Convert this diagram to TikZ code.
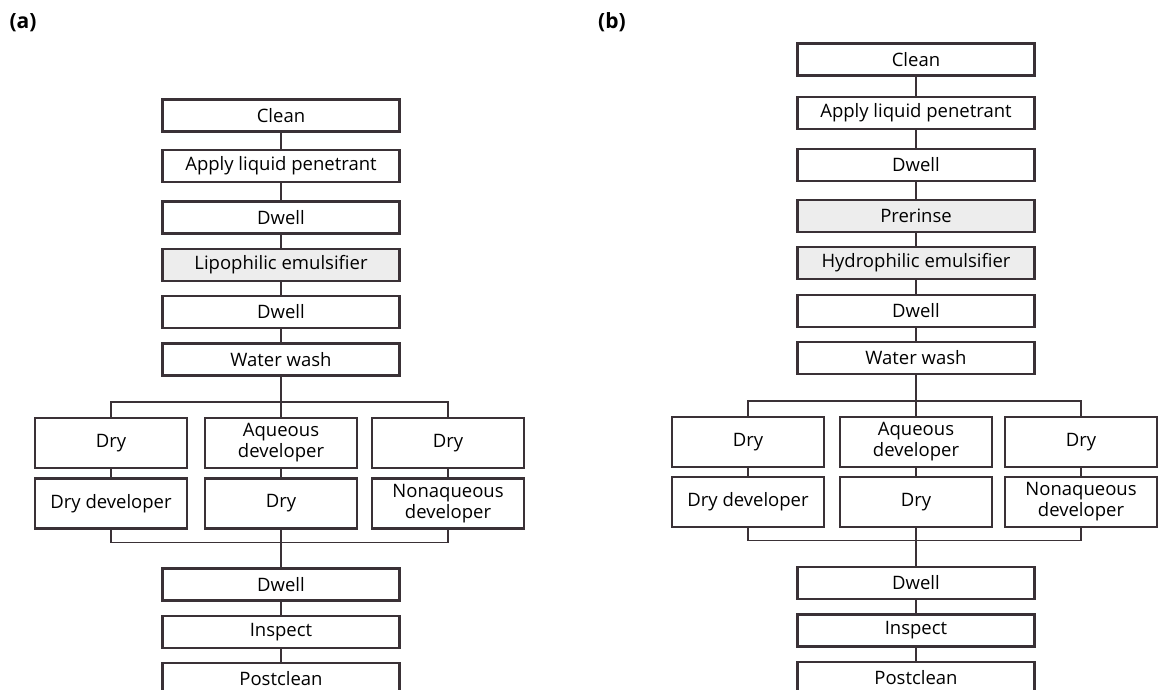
\documentclass[tikz,border=0pt]{standalone}
\usepackage{fontspec}
\setmainfont{Open Sans}
\definecolor{edge}{HTML}{3A3136}
\definecolor{shade}{HTML}{EDEDED}
\begin{document}
\begin{tikzpicture}[x=1pt,y=-1pt,
  box/.style={draw=edge,line width=2.4pt,fill=white,inner sep=0pt,minimum height=32pt,
    font=\fontsize{18.5}{21}\selectfont,text=black,align=center},
  mainbox/.style={box,minimum width=237pt},
  graybox/.style={mainbox,fill=shade},
  branch/.style={box,minimum width=152pt,minimum height=50pt},
  link/.style={draw=edge,line width=1.4pt},
  panel/.style={font=\fontsize{21}{24}\selectfont\bfseries}]
\useasboundingbox (0,0) rectangle (1160,690);
% ---------- (a) ----------
\node[panel] (la) at (23,23) {(a)};
\node[mainbox] (a1) at (281,115.5) {Clean};
\node[mainbox] (a2) at (281,166) {Apply liquid penetrant};
\node[mainbox] (a3) at (281,217.5) {Dwell};
\node[graybox] (a4) at (281,265) {Lipophilic emulsifier};
\node[mainbox] (a5) at (281,312) {Dwell};
\node[mainbox] (a6) at (281,359.5) {Water wash};
\node[branch] (ar1a) at (111,443) {Dry};
\node[branch] (ar1b) at (281,443) {Aqueous\\developer};
\node[branch] (ar1c) at (448,443) {Dry};
\node[branch] (ar2a) at (111,503.5) {Dry developer};
\node[branch] (ar2b) at (281,503.5) {Dry};
\node[branch] (ar2c) at (448,503.5) {Nonaqueous\\developer};
\node[mainbox] (a7) at (281,584.5) {Dwell};
\node[mainbox] (a8) at (281,632) {Inspect};
\node[mainbox] (a9) at (281,679) {Postclean};
\foreach \p/\q in {a1/a2,a2/a3,a3/a4,a4/a5,a5/a6,a6/ar1b,ar1a/ar2a,ar1b/ar2b,ar1c/ar2c,ar2b/a7,a7/a8,a8/a9}
  \draw[link] (\p) -- (\q);
\draw[link] (ar1a.north) -- ++(0,-15) -| (ar1c.north);
\draw[link] (ar2a.south) -- ++(0,12.5) -| (ar2c.south);
% ---------- (b) ----------
\node[panel] (lb) at (612,22) {(b)};
\node[mainbox] (b1) at (916,59.5) {Clean};
\node[mainbox] (b2) at (916,113) {Apply liquid penetrant};
\node[mainbox] (b3) at (916,165) {Dwell};
\node[graybox] (b4) at (916,216) {Prerinse};
\node[graybox] (b5) at (916,263) {Hydrophilic emulsifier};
\node[mainbox] (b6) at (916,311) {Dwell};
\node[mainbox] (b7) at (916,358) {Water wash};
\node[branch] (br1a) at (748,442) {Dry};
\node[branch] (br1b) at (916,442) {Aqueous\\developer};
\node[branch] (br1c) at (1081,442) {Dry};
\node[branch] (br2a) at (748,502) {Dry developer};
\node[branch] (br2b) at (916,502) {Dry};
\node[branch] (br2c) at (1081,502) {Nonaqueous\\developer};
\node[mainbox] (b8) at (916,583) {Dwell};
\node[mainbox] (b9) at (916,630.5) {Inspect};
\node[mainbox] (b10) at (916,678) {Postclean};
\foreach \p/\q in {b1/b2,b2/b3,b3/b4,b4/b5,b5/b6,b6/b7,b7/br1b,br1a/br2a,br1b/br2b,br1c/br2c,br2b/b8,b8/b9,b9/b10}
  \draw[link] (\p) -- (\q);
\draw[link] (br1a.north) -- ++(0,-15) -| (br1c.north);
\draw[link] (br2a.south) -- ++(0,12) -| (br2c.south);
\end{tikzpicture}
\end{document}
